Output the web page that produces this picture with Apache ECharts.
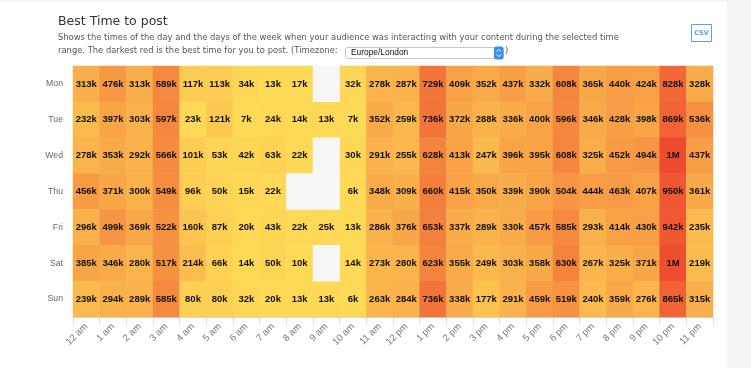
<!DOCTYPE html>
<html>
<head>
<meta charset="utf-8">
<script src="https://cdn.jsdelivr.net/npm/echarts@6/dist/echarts.min.js"></script>
<style>
html,body{margin:0;padding:0;background:#f5f5f5;}
#chart{width:751px;height:368px;}
</style>
</head>
<body>
<div id="chart"></div>
<script>
// Hours of the day (x categories)
var hours = ['12 am','1 am','2 am','3 am','4 am','5 am','6 am','7 am','8 am','9 am','10 am','11 am',
             '12 pm','1 pm','2 pm','3 pm','4 pm','5 pm','6 pm','7 pm','8 pm','9 pm','10 pm','11 pm'];
// Days of the week (y categories)
var days = ['Mon','Tue','Wed','Thu','Fri','Sat','Sun'];

// Values in thousands (null = no data)
var mon = [313,476,313,589,117,113,34,13,17,null,32,278,287,729,409,352,437,332,608,365,440,424,828,328];
var tue = [232,397,303,597,23,121,7,24,14,13,7,352,259,736,372,288,336,400,596,346,428,398,869,536];
var wed = [278,353,292,566,101,53,42,63,22,null,30,291,255,628,413,247,396,395,608,325,452,494,1040,437];
var thu = [456,371,300,549,96,50,15,22,null,null,6,348,309,660,415,350,339,390,504,444,463,407,950,361];
var fri = [296,499,369,522,160,87,20,43,22,25,13,286,376,653,337,289,330,457,585,293,414,430,942,235];
var sat = [385,346,280,517,214,66,14,50,10,null,14,273,280,623,355,249,303,358,630,267,325,371,1010,219];
var sun = [239,294,289,585,80,80,32,20,13,13,6,263,284,736,338,177,291,459,519,240,359,276,865,315];

var rows = [mon,tue,wed,thu,fri,sat,sun];
var cells = [], empty = [], maxV = 0;
rows.forEach(function(r, y){
  r.forEach(function(v, x){
    if (v === null) { empty.push([x, y, 0]); }
    else { cells.push([x, y, v]); if (v > maxV) maxV = v; }
  });
});

function fmt(v){ return v >= 1000 ? Math.round(v/1000) + 'M' : v + 'k'; }

var chart = echarts.init(document.getElementById('chart'), null, {renderer:'canvas'});
chart.setOption({
  animation: false,
  backgroundColor: 'transparent',
  graphic: [
    {type:'rect', left:0, top:0, shape:{width:727, height:368}, style:{fill:'#ffffff'}, z:-10},
    {type:'rect', left:0, top:0, shape:{width:727, height:1.5}, style:{fill:'#f2f2f2'}, z:-9},
    {type:'text', left:58, top:15, style:{text:'Best Time to post', font:'12.5px "DejaVu Sans"', fill:'#333333'}},
    {type:'text', left:58, top:34, style:{text:'Shows the times of the day and the days of the week when your audience was interacting with your content during the selected time', font:'8.4px "DejaVu Sans"', fill:'#555555'}},
    {type:'text', left:58, top:47, style:{text:'range. The darkest red is the best time for you to post. (Timezone:', font:'8.4px "DejaVu Sans"', fill:'#555555'}},
    {type:'rect', shape:{x:345.5, y:47.5, width:158, height:11, r:2}, style:{fill:'#ffffff', stroke:'#c8c8c8', lineWidth:1}},
    {type:'text', left:351, top:48.5, style:{text:'Europe/London', font:'8.4px "Liberation Sans"', fill:'#111111'}},
    {type:'rect', shape:{x:494, y:46.5, width:9.5, height:13, r:2.5}, style:{fill:'#3d8ef4'}},
    {type:'polyline', shape:{points:[[496.5,51.5],[498.75,49.5],[501,51.5]]}, style:{stroke:'#ffffff', lineWidth:1, fill:null}},
    {type:'polyline', shape:{points:[[496.5,54.5],[498.75,56.5],[501,54.5]]}, style:{stroke:'#ffffff', lineWidth:1, fill:null}},
    {type:'text', left:505, top:47, style:{text:')', font:'8.4px "DejaVu Sans"', fill:'#555555'}},
    {type:'rect', shape:{x:691.5, y:24.5, width:20, height:17}, style:{fill:'#ffffff', stroke:'#5b9ee9', lineWidth:1}},
    {type:'text', x:701.5, y:33, style:{text:'CSV', font:'bold 6.5px "DejaVu Sans"', fill:'#5b9ee9', align:'center', verticalAlign:'middle'}}
  ],
  grid: {left:73, right:38, top:66, bottom:51, containLabel:false},
  xAxis: {
    type:'category', data: hours, position:'bottom',
    axisLine:{show:true, lineStyle:{color:'#ccd6eb', width:1}},
    axisTick:{show:true, length:6, lineStyle:{color:'#ccd6eb'}},
    axisLabel:{rotate:45, margin:8, color:'#777777', fontSize:9.5, fontFamily:'Liberation Sans', interval:0},
    splitArea:{show:false}, splitLine:{show:false}
  },
  yAxis: {
    type:'category', data: days, inverse:true,
    axisLine:{show:false}, axisTick:{show:false},
    axisLabel:{margin:10, color:'#666666', fontSize:8.7, fontFamily:'Liberation Sans'},
    splitLine:{show:false}
  },
  visualMap: {
    show:false, seriesIndex:0, min:0, max:maxV, dimension:2,
    inRange:{color:['#fedb57','#ee4a2e']}
  },
  series: [
    {
      type:'heatmap', data: cells,
      label:{show:true, formatter:function(p){ return fmt(p.value[2]); },
             color:'#111111', fontSize:9.5, fontWeight:'bold', fontFamily:'Liberation Sans'},
      itemStyle:{borderWidth:0},
      emphasis:{disabled:true}
    },
    {
      type:'heatmap', data: empty,
      label:{show:false},
      itemStyle:{color:'#f6f6f6', borderWidth:0},
      emphasis:{disabled:true}
    }
  ]
});
</script>
</body>
</html>
